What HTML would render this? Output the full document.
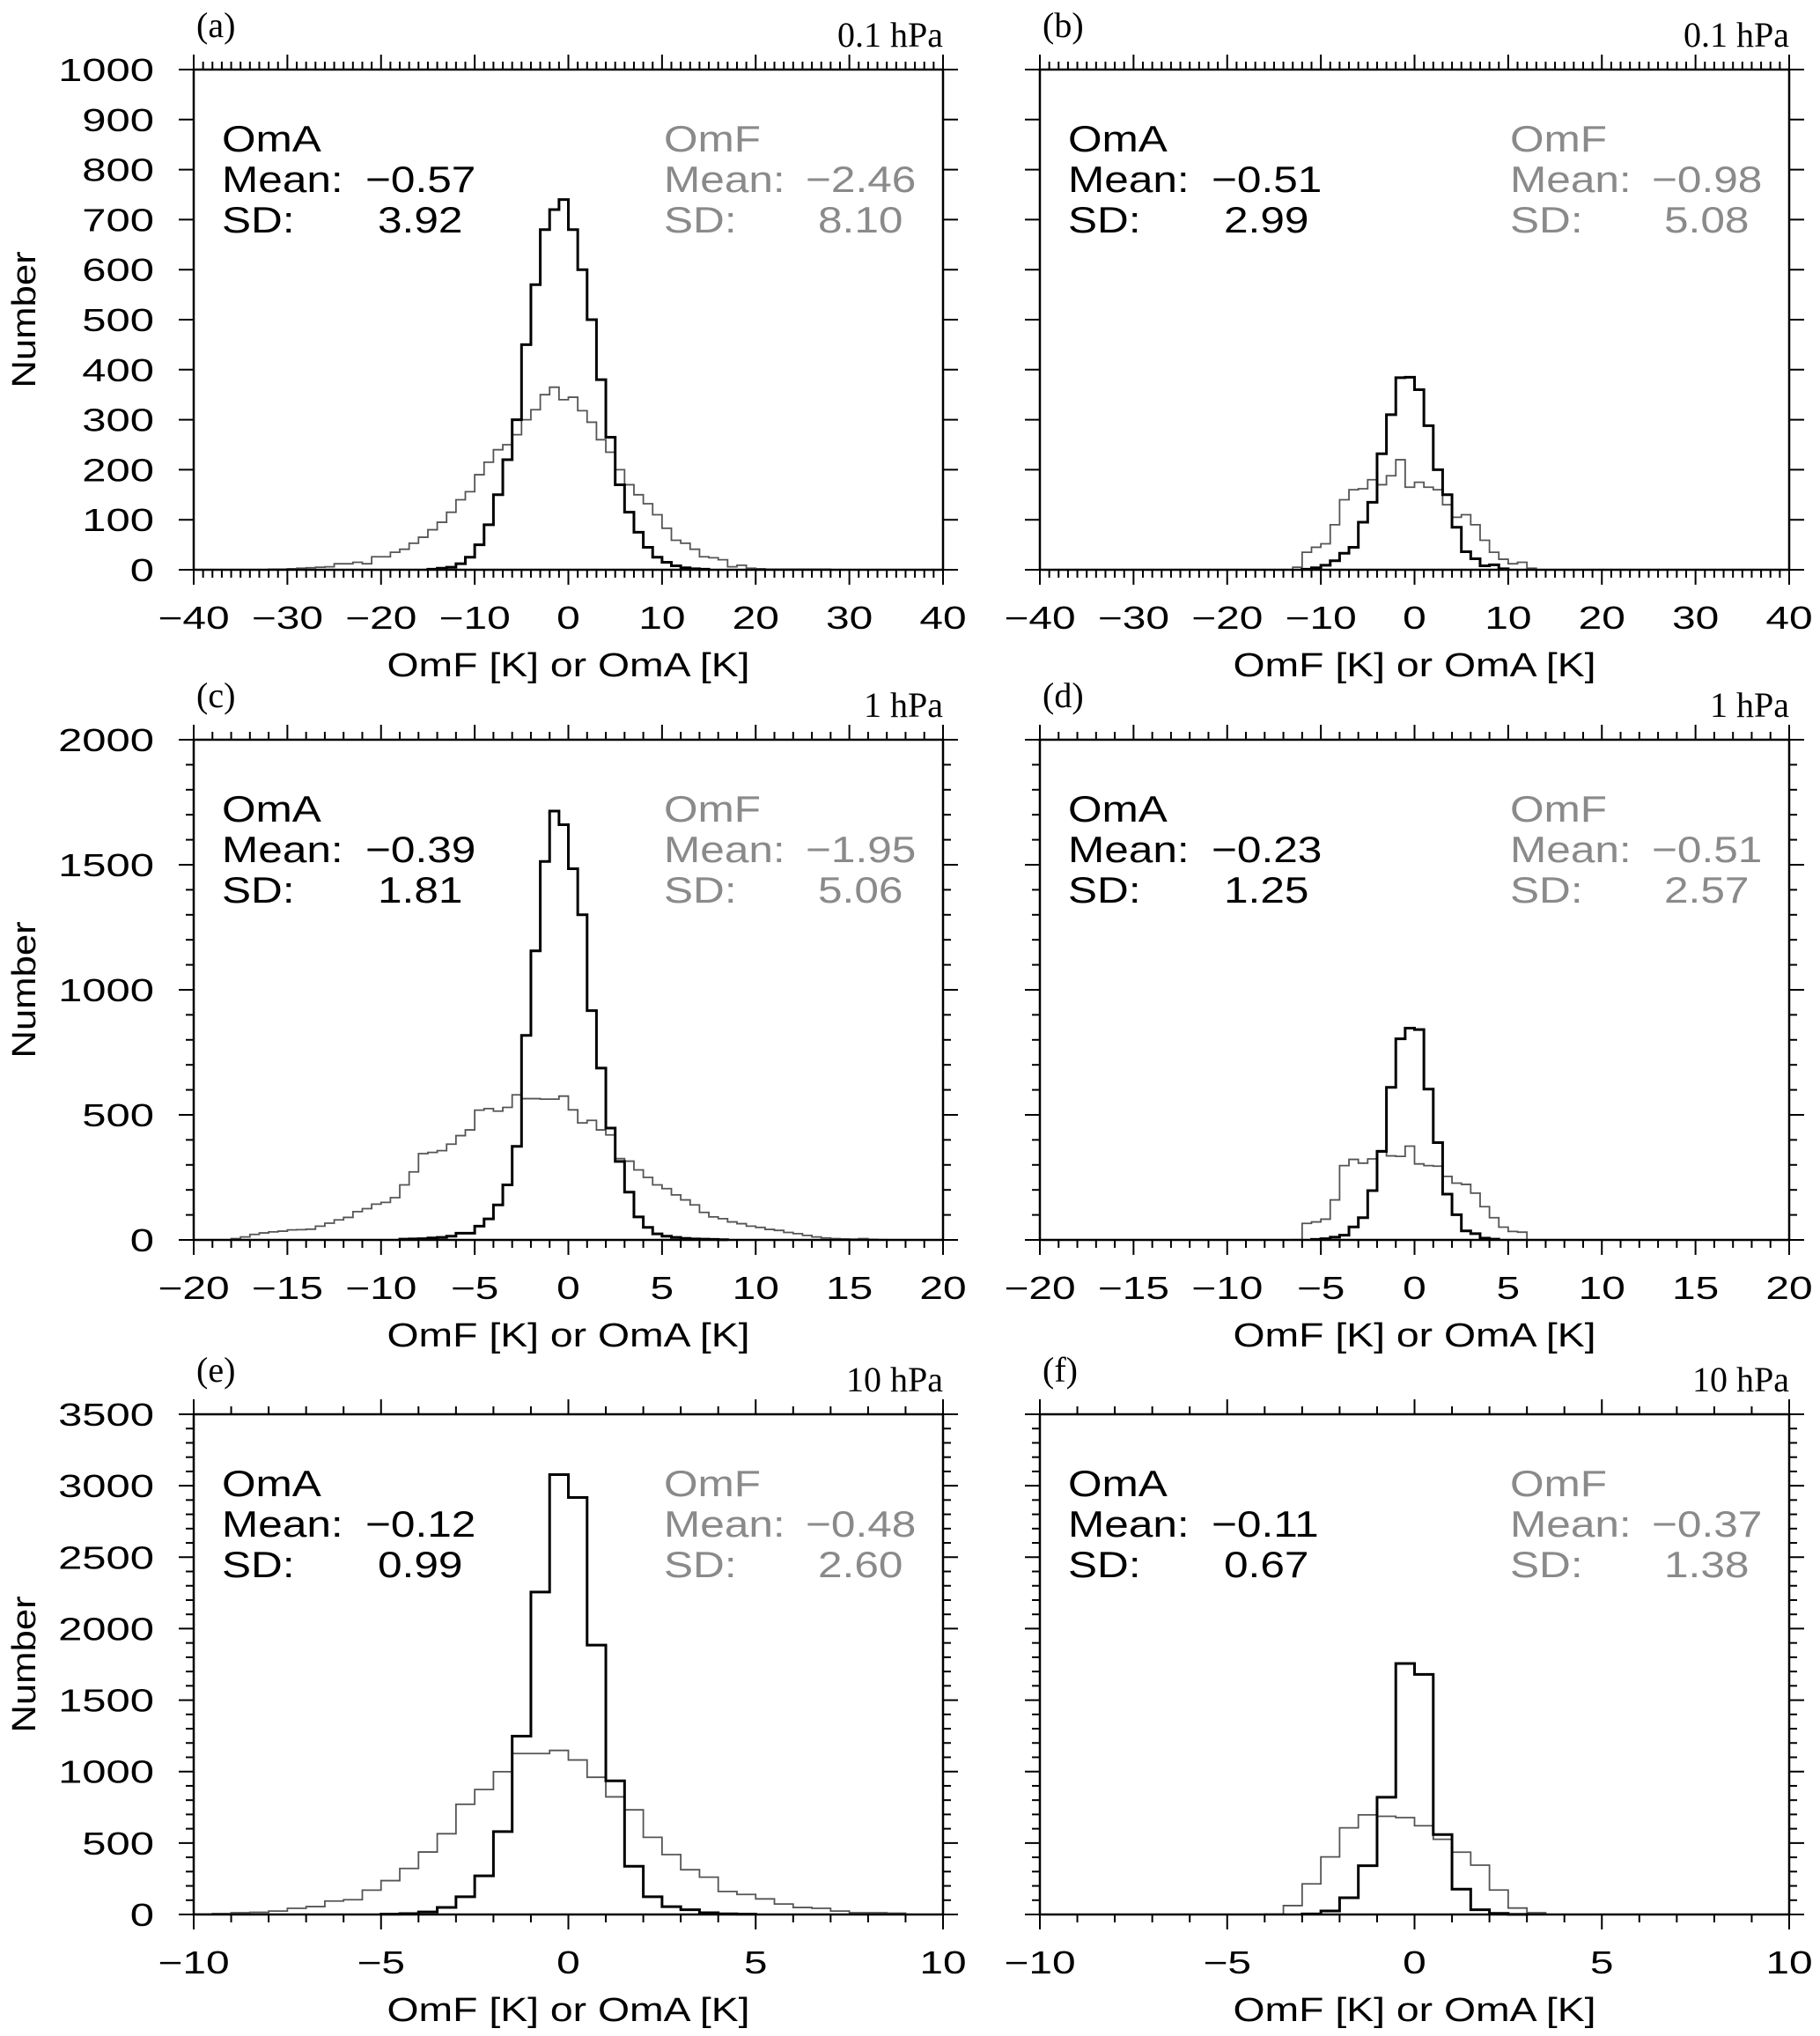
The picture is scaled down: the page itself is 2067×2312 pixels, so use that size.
<!DOCTYPE html>
<html><head><meta charset="utf-8"><style>
html,body{margin:0;padding:0;background:#fff;}
svg{display:block;}
</style></head><body>
<svg id="fig" width="2067" height="2312" viewBox="0 0 2067 2312" xmlns="http://www.w3.org/2000/svg"></svg>
<script>
// ---- data (bin counts) ----
const aBin = 1;   const aOmAStart = -15; const aOmFStart = -32;
const aOmA = [1,3,5,12,25,50,90,150,220,300,450,570,680,720,740,680,600,500,380,265,170,115,75,45,25,15,8,4,2,1];
const aOmF = [1,1,2,3,4,5,6,12,12,15,12,26,26,35,41,53,65,80,95,115,140,156,190,215,240,250,270,300,320,350,365,340,345,318,295,260,235,200,170,150,132,110,83,59,53,41,26,24,20,6,9,3,2,1,1,1,1,1,1,1];
const bBin = 1;   const bOmAStart = -12; const bOmFStart = -13;
const bOmA = [1,4,9,18,33,45,95,135,232,310,384,385,360,288,200,150,85,36,22,8,10,2];
const bOmF = [5,35,45,52,90,140,160,162,180,170,188,220,165,175,165,160,130,105,110,90,59,35,21,12,15,3];
const cBin = 0.5; const cOmAStart = -9; const cOmFStart = -18;
const cOmA = [3,4,5,8,10,15,27,27,55,84,140,220,374,818,1156,1513,1715,1660,1484,1300,917,687,447,314,191,92,50,24,15,10,6,4,3,2,1];
const cOmF = [5,12,22,28,32,35,40,41,43,55,67,80,90,113,125,143,150,169,220,272,345,350,357,383,417,440,519,525,515,530,580,565,565,563,563,575,520,468,478,440,420,325,315,280,250,220,205,180,160,140,110,92,85,72,65,55,50,42,38,30,25,18,12,8,5,4,3,5,2,1];
const dBin = 0.5; const dOmAStart = -5.5; const dOmFStart = -6.5;
const dOmA = [2,5,11,19,52,89,197,354,610,804,847,841,603,389,183,101,36,25,7,3];
const dOmF = [1,66,72,83,160,297,322,307,324,357,336,334,375,304,297,295,254,227,222,187,133,89,51,34,31];
const eBin = 0.5; const eOmAStart = -5; const eOmFStart = -10;
const eOmA = [2,6,18,49,124,270,580,1248,2256,3078,2918,1885,935,337,124,55,33,12,5,2];
const eOmF = [2,6,12,15,24,43,55,94,103,170,237,322,437,565,771,874,999,1126,1126,1148,1081,960,823,732,540,419,313,261,161,140,109,73,49,43,24,12,12,9];
const fBin = 0.5; const fOmAStart = -3; const fOmFStart = -4;
const fOmA = [4,25,117,341,820,1756,1680,559,177,33,8,1];
const fOmF = [2,62,214,403,606,697,687,678,621,526,436,345,171,45,12];

const aYTicks = [0,100,200,300,400,500,600,700,800,900,1000];
const cYTicks = [0,500,1000,1500,2000];
const eYTicks = [0,500,1000,1500,2000,2500,3000,3500];
const abXTicks = [-40,-30,-20,-10,0,10,20,30,40];
const cdXTicks = [-20,-15,-10,-5,0,5,10,15,20];
const efXTicks = [-10,-5,0,5,10];
const statsA = ['-0.57','3.92','-2.46','8.10'];
const statsB = ['-0.51','2.99','-0.98','5.08'];
const statsC = ['-0.39','1.81','-1.95','5.06'];
const statsD = ['-0.23','1.25','-0.51','2.57'];
const statsE = ['-0.12','0.99','-0.48','2.60'];
const statsF = ['-0.11','0.67','-0.37','1.38'];

const NS = 'http://www.w3.org/2000/svg';
const svg = document.getElementById('fig');
function mk(tag, attrs, parent){
  const e = document.createElementNS(NS, tag);
  for (const k in attrs) e.setAttribute(k, attrs[k]);
  (parent||svg).appendChild(e);
  return e;
}
function txt(parent, x, y, s, size, anchor, sx, fill, family){
  const t = mk('text', {transform:`translate(${x},${y}) scale(${sx},1)`, 'font-size':size, 'text-anchor':anchor, fill:fill||'#000', 'font-family':family||'"Liberation Sans", sans-serif'}, parent);
  t.textContent = s.replace(/-/g,'\u2212');
  return t;
}
const W = 851, H = 568;
const panels = [
  {id:'a', L:220, T:79, xmin:-40, xmax:40, ymax:1000, xt:abXTicks, xminor:1, yt:aYTicks, yminor:100, labels:true, lev:'0.1 hPa', bin:aBin, A:aOmA, As:aOmAStart, F:aOmF, Fs:aOmFStart, st:statsA},
  {id:'b', L:1181, T:79, xmin:-40, xmax:40, ymax:1000, xt:abXTicks, xminor:1, yt:aYTicks, yminor:100, labels:false, lev:'0.1 hPa', bin:bBin, A:bOmA, As:bOmAStart, F:bOmF, Fs:bOmFStart, st:statsB},
  {id:'c', L:220, T:840, xmin:-20, xmax:20, ymax:2000, xt:cdXTicks, xminor:1, yt:cYTicks, yminor:100, labels:true, lev:'1 hPa', bin:cBin, A:cOmA, As:cOmAStart, F:cOmF, Fs:cOmFStart, st:statsC},
  {id:'d', L:1181, T:840, xmin:-20, xmax:20, ymax:2000, xt:cdXTicks, xminor:1, yt:cYTicks, yminor:100, labels:false, lev:'1 hPa', bin:dBin, A:dOmA, As:dOmAStart, F:dOmF, Fs:dOmFStart, st:statsD},
  {id:'e', L:220, T:1606, xmin:-10, xmax:10, ymax:3500, xt:efXTicks, xminor:1, yt:eYTicks, yminor:100, labels:true, lev:'10 hPa', bin:eBin, A:eOmA, As:eOmAStart, F:eOmF, Fs:eOmFStart, st:statsE},
  {id:'f', L:1181, T:1606, xmin:-10, xmax:10, ymax:3500, xt:efXTicks, xminor:1, yt:eYTicks, yminor:100, labels:false, lev:'10 hPa', bin:fBin, A:fOmA, As:fOmAStart, F:fOmF, Fs:fOmFStart, st:statsF}
];

function histPath(vals, start, bin, xs, ys){
  let d = `M${xs(start)},${ys(0)}`;
  vals.forEach((v,i)=>{
    const x0 = xs(start+i*bin), x1 = xs(start+(i+1)*bin);
    d += ` L${x0},${ys(v)} L${x1},${ys(v)}`;
  });
  d += ` L${xs(start+vals.length*bin)},${ys(0)}`;
  return d;
}

panels.forEach(p=>{
  const g = mk('g', {});
  
  
  const xs = v => p.L + (v - p.xmin)/(p.xmax - p.xmin)*W;
  const ys = v => p.T + H - v/p.ymax*H;
  const B = p.T + H, R = p.L + W;

  const tk = mk('g', {stroke:'#000', 'stroke-width':2}, g);
  
  
  const nMinorX = Math.round((p.xmax-p.xmin)/p.xminor);
  for (let i=0;i<=nMinorX;i++){
    const v = p.xmin + i*p.xminor;
    const major = p.xt.some(t=>Math.abs(t-v)<1e-9) || Math.abs(v%5)<1e-9 && p.xmax<=20;
    const len = major ? 17 : 9;
    const x = xs(v);
    mk('line', {x1:x, y1:B, x2:x, y2:B+len}, tk);
    mk('line', {x1:x, y1:p.T, x2:x, y2:p.T-len}, tk);
  }
  const nMinorY = Math.round(p.ymax/p.yminor);
  for (let i=0;i<=nMinorY;i++){
    const v = i*p.yminor;
    const major = p.yt.includes(v);
    const len = major ? 17 : 9;
    const y = ys(v);
    mk('line', {x1:p.L-len, y1:y, x2:p.L, y2:y}, tk);
    mk('line', {x1:R, y1:y, x2:R+len, y2:y}, tk);
  }

  const pf = mk('path', {d:histPath(p.F, p.Fs, p.bin, xs, ys), fill:'none', stroke:'#555', 'stroke-width':1.8, 'stroke-linejoin':'miter'}, g);
  
  
  const pa = mk('path', {d:histPath(p.A, p.As, p.bin, xs, ys), fill:'none', stroke:'#000', 'stroke-width':3, 'stroke-linejoin':'miter'}, g);
  
  

  const fr = mk('rect', {x:p.L, y:p.T, width:W, height:H, fill:'none', stroke:'#000', 'stroke-width':2.5}, g);
  
  

  p.xt.forEach(v=>{
    const t = txt(g, xs(v), B+67, String(v), 36, 'middle', 1.33);
    
    
  });
  const xt = txt(g, p.L+W/2, B+121, 'OmF [K] or OmA [K]', 38, 'middle', 1.22);
  
  

  if (p.labels){
    p.yt.forEach(v=>{
      const t = txt(g, p.L-45, ys(v)+13, String(v), 36, 'end', 1.36);
      
      
    });
    const yt = mk('text', {transform:`translate(${40},${p.T+H/2}) rotate(-90) scale(1.15,1)`, 'font-size':38, 'text-anchor':'middle', 'font-family':'"Liberation Sans", sans-serif'}, g);
    yt.textContent = 'Number';
    
    
  }

  const pl = txt(g, p.L+3, p.T-37, '('+p.id+')', 40, 'start', 1, '#000', '"Liberation Serif", serif');
  
  
  const lv = txt(g, R, p.T-26, p.lev, 40, 'end', 1, '#000', '"Liberation Serif", serif');
  
  

  const sg = mk('g', {}, g);
  
  
  txt(sg, p.L+32, p.T+93, 'OmA', 42, 'start', 1.18);
  txt(sg, p.L+32, p.T+139, 'Mean:', 42, 'start', 1.18);
  txt(sg, p.L+32, p.T+185, 'SD:', 42, 'start', 1.18);
  txt(sg, p.L+195, p.T+139, p.st[0], 42, 'start', 1.18);
  txt(sg, p.L+209, p.T+185, p.st[1], 42, 'start', 1.18);
  const fg = mk('g', {}, g);
  
  
  const gc = '#8a8a8a';
  txt(fg, p.L+534, p.T+93, 'OmF', 42, 'start', 1.18, gc);
  txt(fg, p.L+534, p.T+139, 'Mean:', 42, 'start', 1.18, gc);
  txt(fg, p.L+534, p.T+185, 'SD:', 42, 'start', 1.18, gc);
  txt(fg, p.L+695, p.T+139, p.st[2], 42, 'start', 1.18, gc);
  txt(fg, p.L+709, p.T+185, p.st[3], 42, 'start', 1.18, gc);
});
</script>
</body></html>
